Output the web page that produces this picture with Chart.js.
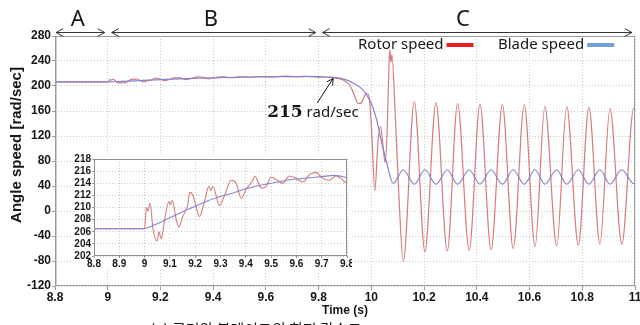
<!DOCTYPE html>
<html>
<head>
<meta charset="utf-8">
<script src="https://cdn.jsdelivr.net/npm/chart.js@4.4.0/dist/chart.umd.min.js"></script>
<style>
  html, body { margin: 0; padding: 0; background: #fff; }
  #wrap { position: relative; width: 640px; height: 325px; overflow: hidden; }
  #main { position: absolute; left: 0; top: 0; }
  #inset { position: absolute; left: 72px; top: 154px; background: #fff; }
</style>
</head>
<body>
<div id="wrap">
  <canvas id="main" width="640" height="325"></canvas>
  <canvas id="inset" width="280" height="116"></canvas>
</div>
<script>
// rotor speed (rad/sec)
const rotorTime = [
  8.8, 8.9, 9.0, 9.007, 9.013, 9.022, 9.033, 9.049, 9.057, 9.066, 9.079, 9.096, 9.103, 9.109,
  9.125, 9.136, 9.151, 9.171, 9.178, 9.191, 9.211, 9.217, 9.237, 9.254, 9.262, 9.27, 9.296,
  9.316, 9.342, 9.362, 9.382, 9.401, 9.428, 9.436, 9.461, 9.48, 9.5, 9.524, 9.546, 9.572,
  9.599, 9.625, 9.654, 9.678, 9.704, 9.73, 9.757, 9.776, 9.8, 9.83, 9.86, 9.88, 9.9, 9.92,
  9.935, 9.95, 9.962, 9.975, 9.985, 9.993, 10.002, 10.013, 10.025, 10.035, 10.045, 10.052,
  10.06, 10.066, 10.07, 10.074, 10.078, 10.09, 10.105, 10.121, 10.163, 10.203, 10.245, 10.288,
  10.327, 10.371, 10.412, 10.454, 10.497, 10.538, 10.58, 10.621, 10.658, 10.703, 10.741,
  10.785, 10.825, 10.867, 10.905, 10.95, 10.995, 11.0
];
const rotorSpeed = [
  206.5, 206.5, 206.5, 210.0, 209.4, 210.7, 206.5, 204.5, 206.0, 204.8, 208.0, 211.0, 210.5, 211.2,
  208.0, 206.8, 208.5, 210.5, 212.5, 212.0, 209.0, 208.5, 211.0, 213.5, 212.8, 213.5, 210.3,
  212.0, 214.5, 214.0, 211.5, 213.0, 214.5, 215.2, 213.2, 213.5, 215.0, 214.5, 214.0, 215.2,
  214.8, 214.2, 215.5, 215.8, 214.8, 214.5, 215.2, 214.8, 214.0, 214.0, 213.0, 211.5, 208.0, 200.0,
  186.0, 172.0, 173.0, 185.0, 188.0, 178.0, 120.0, 32.0, 110.0, 135.0, 100.0, 78.0,
  130.0, 222.0, 258.0, 238.0, 250.0, 160.0, 20.0, -81.0, 175, -65, 173, -64,
  172, -63, 171, -62, 170, -60, 170, -57, 167, -56, 167,
  -55, 166, -53, 164, -53, 164, 163
];

// blade speed (rad/sec)
const bladeTime = [
  8.8, 9.0, 9.02, 9.05, 9.1, 9.15, 9.2, 9.25, 9.3, 9.35, 9.4, 9.45, 9.5, 9.55, 9.6, 9.65, 9.7,
  9.75, 9.8, 9.85, 9.88, 9.9, 9.93, 9.96, 9.98, 10.0, 10.02, 10.04, 10.06, 10.083, 10.121,
  10.163, 10.203, 10.245, 10.288, 10.327, 10.371, 10.412, 10.454, 10.497, 10.538, 10.58,
  10.621, 10.658, 10.703, 10.741, 10.785, 10.825, 10.867, 10.905, 10.95, 10.995, 11.0
];
const bladeSpeed = [
  206.5, 206.5, 206.8, 207.3, 208.3, 209.3, 210.2, 211.1, 211.8, 212.4, 213.1, 213.6, 214.0, 214.4, 214.7, 214.9, 215.1,
  215.3, 214.9, 214.2, 212.5, 210.5, 205, 197, 187, 172, 146, 108, 74, 44, 66,
  43, 66, 43, 66, 43, 66, 43, 66, 43, 66, 43,
  66, 43, 66, 43, 66, 43, 66, 43, 66, 44, 44
];

// tick labels
const mainXTicks = [8.8, 9, 9.2, 9.4, 9.6, 9.8, 10, 10.2, 10.4, 10.6, 10.8, 11];
const mainYTicks = [-120, -80, -40, 0, 40, 80, 120, 160, 200, 240, 280];
const insetXTicks = [8.8, 8.9, 9, 9.1, 9.2, 9.3, 9.4, 9.5, 9.6, 9.7, 9.8];
const insetYTicks = [202, 204, 206, 208, 210, 212, 214, 216, 218];

// stage markers above the plot
const stageNames = ['A', 'B', 'C'];
const stageFrom = [8.8, 9.0, 9.8];
const stageTo = [9.0, 9.8, 11.0];
const stageLabelAt = [8.886, 9.391, 10.347];

const legendNames = ['Rotor speed', 'Blade speed'];
const annotPoint = [9.855, 212];

const TEXT = '#161616';
const GRID = '#c9c9c9';
const FRAME = '#9a9a9a';
const ROTOR_LINE = 'rgba(198, 72, 72, 0.72)';
const BLADE_LINE = 'rgba(128, 128, 208, 0.95)';
const LEGEND_COLORS = ['#ee1c24', '#6f9fdf'];

function toPoints(times, values) {
  return times.map((t, i) => ({ x: t, y: values[i] }));
}

function buildDatasets(width) {
  return [
    { label: legendNames[1], data: toPoints(bladeTime, bladeSpeed), borderColor: BLADE_LINE,
      borderWidth: width, pointRadius: 0, cubicInterpolationMode: 'monotone' },
    { label: legendNames[0], data: toPoints(rotorTime, rotorSpeed), borderColor: ROTOR_LINE,
      borderWidth: width, pointRadius: 0, cubicInterpolationMode: 'monotone' }
  ];
}

function chevron(ctx, x, y, angle, size) {
  ctx.beginPath();
  ctx.moveTo(x + Math.cos(angle + 0.5) * size, y + Math.sin(angle + 0.5) * size);
  ctx.lineTo(x, y);
  ctx.lineTo(x + Math.cos(angle - 0.5) * size, y + Math.sin(angle - 0.5) * size);
  ctx.stroke();
}

// frame, axis title, stages, legend, annotation and caption
const decorPlugin = {
  id: 'decor',
  afterDraw(chart) {
    const { ctx, chartArea: a, scales: { x, y } } = chart;
    ctx.save();
    ctx.strokeStyle = FRAME;
    ctx.lineWidth = 1;
    ctx.strokeRect(a.left + 0.5, a.top + 0.5, a.right - a.left - 1, a.bottom - a.top - 1);
    ctx.lineWidth = 1.5;
    ctx.beginPath();
    ctx.moveTo(a.left + 0.75, a.top);
    ctx.lineTo(a.left + 0.75, a.bottom);
    ctx.stroke();

    // y axis title
    ctx.save();
    ctx.translate(17, 145);
    ctx.rotate(-Math.PI / 2);
    ctx.fillStyle = TEXT;
    ctx.font = 'bold 15px "Liberation Sans", Arial';
    ctx.textAlign = 'center';
    ctx.textBaseline = 'middle';
    ctx.fillText('Angle speed [rad/sec]', 0, 0);
    ctx.restore();

    // A / B / C
    ctx.strokeStyle = '#333';
    ctx.lineWidth = 1;
    ctx.fillStyle = TEXT;
    ctx.font = '22px "Noto Sans", "DejaVu Sans"';
    ctx.textAlign = 'center';
    ctx.textBaseline = 'middle';
    stageNames.forEach((name, i) => {
      const x1 = x.getPixelForValue(stageFrom[i]) + (i === 0 ? 1 : 4);
      const x2 = x.getPixelForValue(stageTo[i]) - 3;
      const ay = 32.5;
      ctx.beginPath();
      ctx.moveTo(x1, ay);
      ctx.lineTo(x2, ay);
      ctx.stroke();
      chevron(ctx, x1, ay, 0, 8);
      chevron(ctx, x2, ay, Math.PI, 8);
      ctx.fillText(name, x.getPixelForValue(stageLabelAt[i]), 20);
    });

    // legend
    ctx.font = '15px "Noto Sans", "DejaVu Sans"';
    ctx.textAlign = 'left';
    const legendX = [358, 498];
    legendNames.forEach((name, i) => {
      ctx.fillStyle = TEXT;
      ctx.fillText(name, legendX[i], 45);
      const w = ctx.measureText(name).width;
      ctx.fillStyle = LEGEND_COLORS[i];
      ctx.fillRect(legendX[i] + w + 3, 43, 27, 4);
    });

    // 215 rad/sec
    const tx = x.getPixelForValue(annotPoint[0]);
    const ty = y.getPixelForValue(annotPoint[1]);
    ctx.strokeStyle = '#111';
    ctx.beginPath();
    ctx.moveTo(tx - 16, ty + 24.5);
    ctx.lineTo(tx, ty);
    ctx.stroke();
    chevron(ctx, tx, ty, Math.atan2(24.5, -16), 7);
    ctx.fillStyle = TEXT;
    ctx.font = 'bold 17px "DejaVu Serif", "Liberation Serif"';
    ctx.fillText('215', tx - 66, ty + 34);
    const w215 = ctx.measureText('215').width;
    ctx.font = '15px "Noto Sans", "DejaVu Sans"';
    ctx.fillText('rad/sec', tx - 66 + w215 + 4, ty + 34);

    // caption, cut by the bottom edge
    ctx.font = '15px "Noto Sans CJK KR"';
    ctx.textBaseline = 'top';
    ctx.fillText('(a) 로터와 블레이드의 회전 각속도', 150, 322);
    ctx.restore();
  }
};

const insetFrame = {
  id: 'insetFrame',
  afterDraw(chart) {
    const { ctx, chartArea: a } = chart;
    ctx.save();
    ctx.strokeStyle = '#8e8e8e';
    ctx.lineWidth = 1;
    ctx.strokeRect(a.left + 0.5, a.top + 0.5, a.right - a.left - 1, a.bottom - a.top - 1);
    ctx.restore();
  }
};

function axisOptions(min, max, tickValues, fontSize, extra) {
  return Object.assign({
    type: 'linear',
    min,
    max,
    afterBuildTicks: (axis) => { axis.ticks = tickValues.map((v) => ({ value: v })); },
    ticks: {
      font: { family: '"Liberation Sans", Arial', size: fontSize, weight: 'bold' },
      color: TEXT,
      autoSkip: false,
      maxRotation: 0,
      callback: (v) => String(v)
    },
    grid: { color: GRID, tickColor: FRAME },
    border: { display: false, dash: [1, 2] }
  }, extra);
}

function renderMain() {
  const xAxis = axisOptions(8.8, 11, mainXTicks, 12, {
    afterFit: (axis) => { axis.height = 32; axis.paddingLeft = 0; axis.paddingRight = 0; },
    title: { display: true, text: 'Time (s)', color: TEXT, padding: { top: 0, bottom: 0 },
      font: { family: '"Liberation Sans", Arial', size: 12, weight: 'bold' } }
  });
  xAxis.ticks.padding = 0;
  xAxis.grid.tickLength = 4;
  const yAxis = axisOptions(-120, 280, mainYTicks, 12, {
    afterFit: (axis) => { axis.width = 55; }
  });
  yAxis.ticks.padding = 1;
  yAxis.grid.tickLength = 3;

  new Chart(document.getElementById('main'), {
    type: 'line',
    data: { datasets: buildDatasets(1.2) },
    options: {
      responsive: false,
      animation: false,
      devicePixelRatio: 1,
      layout: { padding: { top: 36, right: 5, bottom: 7, left: 0 } },
      plugins: { legend: { display: false }, tooltip: { enabled: false } },
      scales: { x: xAxis, y: yAxis }
    },
    plugins: [decorPlugin]
  });
}

function renderInset() {
  const xAxis = axisOptions(8.8, 9.8, insetXTicks, 10, {
    afterFit: (axis) => { axis.height = 14; axis.paddingLeft = 0; axis.paddingRight = 0; }
  });
  xAxis.ticks.padding = 0;
  xAxis.grid.tickLength = 2;
  const yAxis = axisOptions(202, 218, insetYTicks, 10, {
    afterFit: (axis) => { axis.width = 22; axis.paddingTop = 0; axis.paddingBottom = 0; }
  });
  yAxis.ticks.padding = 1;
  yAxis.grid.tickLength = 2;

  new Chart(document.getElementById('inset'), {
    type: 'line',
    data: { datasets: buildDatasets(1.1) },
    options: {
      responsive: false,
      animation: false,
      devicePixelRatio: 1,
      layout: { padding: { top: 5, right: 5, bottom: 0, left: 0 } },
      plugins: { legend: { display: false }, tooltip: { enabled: false } },
      scales: { x: xAxis, y: yAxis }
    },
    plugins: [insetFrame]
  });
}

renderMain();
renderInset();
</script>
</body>
</html>
